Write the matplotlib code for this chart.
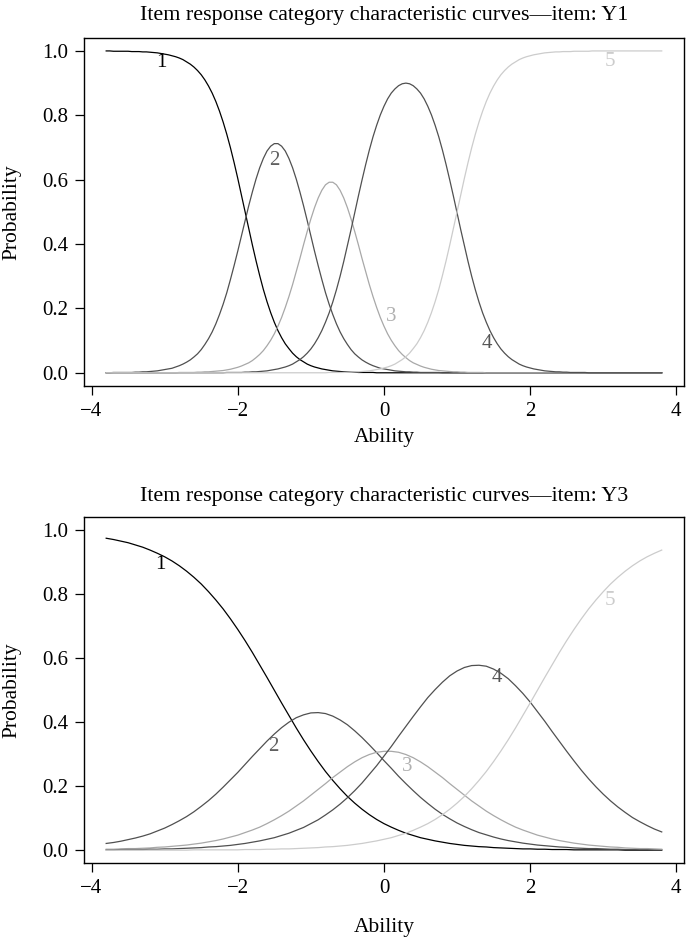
import matplotlib
matplotlib.use('Agg')
import matplotlib.pyplot as plt
import numpy as np

plt.rcParams['font.family'] = ['Liberation Serif', 'DejaVu Serif']

# item Y1: abilities -3.8 .. 3.8 every 0.05 (153 points)
theta_y1 = np.linspace(-3.8, 3.8, 153)
y1_cat1 = [1.000, 1.000, 0.999, 0.999, 0.999, 0.999, 0.999, 0.998, 0.998, 0.998,
           0.997, 0.997, 0.996, 0.995, 0.994, 0.992, 0.990, 0.988, 0.985, 0.982,
           0.978, 0.973, 0.966, 0.959, 0.950, 0.939, 0.926, 0.910, 0.891, 0.869,
           0.843, 0.813, 0.779, 0.741, 0.699, 0.653, 0.604, 0.552, 0.500, 0.448,
           0.397, 0.348, 0.302, 0.259, 0.221, 0.187, 0.157, 0.131, 0.109, 0.090,
           0.075, 0.061, 0.050, 0.041, 0.034, 0.027, 0.022, 0.018, 0.015, 0.012,
           0.010, 0.008, 0.006, 0.005, 0.004, 0.003, 0.003, 0.002, 0.002, 0.001,
           0.001, 0.001, 0.001, 0.001, 0, 0, 0, 0, 0, 0,
           0, 0, 0, 0, 0, 0, 0, 0, 0, 0, 0, 0, 0, 0, 0, 0, 0, 0, 0, 0,
           0, 0, 0, 0, 0, 0, 0, 0, 0, 0, 0, 0, 0, 0, 0, 0, 0, 0, 0, 0,
           0, 0, 0, 0, 0, 0, 0, 0, 0, 0, 0, 0, 0, 0, 0, 0, 0, 0, 0, 0,
           0, 0, 0, 0, 0, 0, 0, 0, 0, 0, 0, 0, 0]
y1_cat2 = [0, 0, 0.001, 0.001, 0.001, 0.001, 0.001, 0.001, 0.002, 0.002,
           0.003, 0.003, 0.004, 0.005, 0.006, 0.008, 0.010, 0.012, 0.014, 0.018,
           0.022, 0.027, 0.033, 0.040, 0.049, 0.059, 0.072, 0.088, 0.106, 0.127,
           0.152, 0.181, 0.213, 0.249, 0.290, 0.333, 0.378, 0.425, 0.473, 0.519,
           0.562, 0.602, 0.637, 0.666, 0.689, 0.704, 0.712, 0.712, 0.704, 0.689,
           0.666, 0.637, 0.602, 0.562, 0.519, 0.473, 0.425, 0.378, 0.333, 0.290,
           0.249, 0.213, 0.181, 0.152, 0.127, 0.106, 0.088, 0.072, 0.059, 0.049,
           0.040, 0.033, 0.027, 0.022, 0.018, 0.014, 0.012, 0.010, 0.008, 0.006,
           0.005, 0.004, 0.003, 0.003, 0.002, 0.002, 0.001, 0.001, 0.001, 0.001,
           0.001, 0.001, 0, 0, 0, 0, 0, 0, 0, 0,
           0, 0, 0, 0, 0, 0, 0, 0, 0, 0, 0, 0, 0, 0, 0, 0, 0, 0, 0, 0,
           0, 0, 0, 0, 0, 0, 0, 0, 0, 0, 0, 0, 0, 0, 0, 0, 0, 0, 0, 0,
           0, 0, 0, 0, 0, 0, 0, 0, 0, 0, 0, 0, 0]
y1_cat3 = [0, 0, 0, 0, 0, 0, 0, 0, 0, 0, 0, 0, 0, 0, 0, 0, 0, 0, 0, 0,
           0.001, 0.001, 0.001, 0.001, 0.001, 0.002, 0.002, 0.003, 0.003, 0.004,
           0.005, 0.006, 0.007, 0.009, 0.011, 0.014, 0.017, 0.021, 0.026, 0.031,
           0.038, 0.047, 0.057, 0.069, 0.084, 0.101, 0.121, 0.145, 0.172, 0.203,
           0.237, 0.274, 0.314, 0.355, 0.398, 0.439, 0.478, 0.513, 0.543, 0.567,
           0.584, 0.592, 0.592, 0.584, 0.567, 0.543, 0.513, 0.478, 0.439, 0.398,
           0.355, 0.314, 0.274, 0.237, 0.203, 0.172, 0.145, 0.121, 0.101, 0.084,
           0.069, 0.057, 0.047, 0.038, 0.031, 0.026, 0.021, 0.017, 0.014, 0.011,
           0.009, 0.007, 0.006, 0.005, 0.004, 0.003, 0.003, 0.002, 0.002, 0.001,
           0.001, 0.001, 0.001, 0.001, 0, 0, 0, 0, 0, 0,
           0, 0, 0, 0, 0, 0, 0, 0, 0, 0,
           0, 0, 0, 0, 0, 0, 0, 0, 0, 0, 0, 0, 0, 0, 0, 0, 0, 0, 0, 0,
           0, 0, 0, 0, 0, 0, 0, 0, 0, 0, 0, 0, 0]
y1_cat4 = [0, 0, 0, 0, 0, 0, 0, 0, 0, 0, 0, 0, 0, 0, 0, 0, 0, 0, 0, 0,
           0, 0, 0, 0, 0, 0, 0, 0, 0, 0, 0, 0, 0, 0.001, 0.001, 0.001, 0.001, 0.001, 0.002, 0.002,
           0.003, 0.003, 0.004, 0.005, 0.006, 0.008, 0.010, 0.012, 0.015, 0.018,
           0.022, 0.027, 0.034, 0.041, 0.050, 0.061, 0.074, 0.090, 0.109, 0.131,
           0.157, 0.186, 0.220, 0.258, 0.300, 0.346, 0.395, 0.445, 0.497, 0.549,
           0.599, 0.647, 0.692, 0.733, 0.769, 0.801, 0.828, 0.851, 0.869, 0.882,
           0.892, 0.898, 0.900, 0.898, 0.892, 0.882, 0.869, 0.851, 0.828, 0.801,
           0.769, 0.733, 0.692, 0.647, 0.599, 0.549, 0.497, 0.445, 0.395, 0.346,
           0.300, 0.258, 0.220, 0.186, 0.157, 0.131, 0.109, 0.090, 0.074, 0.061,
           0.050, 0.041, 0.034, 0.027, 0.022, 0.018, 0.015, 0.012, 0.010, 0.008,
           0.006, 0.005, 0.004, 0.003, 0.003, 0.002, 0.002, 0.001, 0.001, 0.001,
           0.001, 0.001, 0, 0, 0, 0, 0, 0, 0, 0,
           0, 0, 0, 0, 0, 0, 0, 0, 0, 0, 0, 0, 0]
y1_cat5 = [0, 0, 0, 0, 0, 0, 0, 0, 0, 0, 0, 0, 0, 0, 0, 0, 0, 0, 0, 0,
           0, 0, 0, 0, 0, 0, 0, 0, 0, 0, 0, 0, 0, 0, 0, 0, 0, 0, 0, 0,
           0, 0, 0, 0, 0, 0, 0, 0, 0, 0, 0, 0, 0, 0, 0, 0, 0, 0, 0, 0,
           0, 0.001, 0.001, 0.001, 0.001, 0.001, 0.002, 0.002, 0.003, 0.003,
           0.004, 0.005, 0.006, 0.008, 0.010, 0.012, 0.015, 0.018, 0.022, 0.027,
           0.034, 0.041, 0.050, 0.061, 0.075, 0.090, 0.109, 0.131, 0.157, 0.187,
           0.221, 0.259, 0.302, 0.348, 0.397, 0.448, 0.500, 0.552, 0.604, 0.653,
           0.699, 0.741, 0.779, 0.813, 0.843, 0.869, 0.891, 0.910, 0.926, 0.939,
           0.950, 0.959, 0.966, 0.973, 0.978, 0.982, 0.985, 0.988, 0.990, 0.992,
           0.994, 0.995, 0.996, 0.997, 0.997, 0.998, 0.998, 0.998, 0.999, 0.999,
           0.999, 0.999, 0.999, 1.000, 1.000, 1.000, 1.000, 1.000, 1.000, 1.000,
           1.000, 1.000, 1.000, 1.000, 1.000, 1.000, 1.000, 1.000, 1.000, 1.000,
           1.000, 1.000, 1.000]

# item Y3: abilities -3.8 .. 3.8 every 0.1 (77 points)
theta_y3 = np.linspace(-3.8, 3.8, 77)
y3_cat1 = [0.975, 0.971, 0.966, 0.961, 0.954, 0.947, 0.938, 0.928, 0.917, 0.904,
           0.889, 0.872, 0.853, 0.832, 0.808, 0.782, 0.754, 0.723, 0.690, 0.655,
           0.618, 0.579, 0.540, 0.500, 0.460, 0.421, 0.382, 0.345, 0.310, 0.277,
           0.246, 0.218, 0.192, 0.168, 0.147, 0.128, 0.111, 0.096, 0.083, 0.072,
           0.062, 0.053, 0.046, 0.039, 0.034, 0.029, 0.025, 0.021, 0.018, 0.015,
           0.013, 0.011, 0.010, 0.008, 0.007, 0.006, 0.005, 0.004, 0.004, 0.003,
           0.003, 0.002, 0.002, 0.002, 0.001, 0.001, 0.001, 0.001, 0.001, 0.001,
           0.001, 0.000, 0.000, 0.000, 0.000, 0.000, 0.000]
y3_cat2 = [0.021, 0.024, 0.028, 0.033, 0.038, 0.044, 0.051, 0.060, 0.069, 0.080,
           0.092, 0.105, 0.120, 0.137, 0.155, 0.175, 0.197, 0.220, 0.243, 0.268,
           0.293, 0.317, 0.341, 0.363, 0.383, 0.400, 0.414, 0.423, 0.429, 0.430,
           0.427, 0.419, 0.407, 0.392, 0.373, 0.352, 0.329, 0.305, 0.280, 0.256,
           0.231, 0.208, 0.186, 0.165, 0.146, 0.128, 0.112, 0.098, 0.085, 0.074,
           0.064, 0.055, 0.048, 0.041, 0.035, 0.030, 0.026, 0.022, 0.019, 0.016,
           0.014, 0.012, 0.010, 0.009, 0.007, 0.006, 0.005, 0.005, 0.004, 0.003,
           0.003, 0.002, 0.002, 0.002, 0.002, 0.001, 0.001]
y3_cat3 = [0.003, 0.003, 0.004, 0.005, 0.005, 0.006, 0.007, 0.009, 0.010, 0.012,
           0.014, 0.016, 0.019, 0.022, 0.026, 0.030, 0.035, 0.041, 0.047, 0.055,
           0.063, 0.072, 0.083, 0.095, 0.108, 0.122, 0.138, 0.154, 0.172, 0.190,
           0.208, 0.227, 0.244, 0.261, 0.276, 0.289, 0.299, 0.306, 0.309, 0.309,
           0.306, 0.299, 0.289, 0.276, 0.261, 0.244, 0.227, 0.208, 0.190, 0.172,
           0.154, 0.138, 0.122, 0.108, 0.095, 0.083, 0.072, 0.063, 0.055, 0.047,
           0.041, 0.035, 0.030, 0.026, 0.022, 0.019, 0.016, 0.014, 0.012, 0.010,
           0.009, 0.007, 0.006, 0.005, 0.005, 0.004, 0.003]
y3_cat4 = [0.001, 0.001, 0.002, 0.002, 0.002, 0.002, 0.003, 0.003, 0.004, 0.004,
           0.005, 0.006, 0.007, 0.008, 0.010, 0.011, 0.013, 0.015, 0.018, 0.021,
           0.025, 0.029, 0.034, 0.039, 0.046, 0.053, 0.062, 0.071, 0.083, 0.095,
           0.110, 0.126, 0.144, 0.164, 0.186, 0.210, 0.237, 0.264, 0.294, 0.324,
           0.356, 0.387, 0.418, 0.448, 0.477, 0.502, 0.525, 0.545, 0.560, 0.571,
           0.577, 0.578, 0.575, 0.566, 0.553, 0.536, 0.514, 0.490, 0.463, 0.433,
           0.403, 0.371, 0.340, 0.309, 0.279, 0.250, 0.223, 0.198, 0.175, 0.154,
           0.135, 0.118, 0.102, 0.089, 0.077, 0.066, 0.057]
y3_cat5 = [0, 0, 0, 0, 0, 0, 0, 0, 0, 0,
           0.000, 0.000, 0.001, 0.001, 0.001, 0.001, 0.001, 0.001, 0.001, 0.002,
           0.002, 0.002, 0.003, 0.003, 0.004, 0.004, 0.005, 0.006, 0.007, 0.008,
           0.010, 0.011, 0.013, 0.015, 0.018, 0.021, 0.025, 0.029, 0.034, 0.039,
           0.046, 0.053, 0.062, 0.072, 0.083, 0.096, 0.111, 0.128, 0.147, 0.168,
           0.192, 0.218, 0.246, 0.277, 0.310, 0.345, 0.382, 0.421, 0.460, 0.500,
           0.540, 0.579, 0.618, 0.655, 0.690, 0.723, 0.754, 0.782, 0.808, 0.832,
           0.853, 0.872, 0.889, 0.904, 0.917, 0.928, 0.938]

cat_names = ['1', '2', '3', '4', '5']
# where the category numbers sit on each panel
y1_label_x = [-3.04, -1.50, 0.10, 1.41, 3.09]
y1_label_y = [0.964, 0.661, 0.174, 0.091, 0.967]
y3_label_x = [-3.06, -1.51, 0.32, 1.55, 3.09]
y3_label_y = [0.892, 0.324, 0.263, 0.539, 0.779]

colors = ['#000000', '#505050', '#a8a8a8', '#505050', '#cccccc']
text_colors = ['#000000', '#606060', '#b0b0b0', '#555555', '#cccccc']


def draw_panel(ax, theta, cats, lab_x, lab_y):
    for c, yv in enumerate(cats):
        ax.plot(theta, yv, color=colors[c], lw=0.9)
        ax.text(lab_x[c], lab_y[c], cat_names[c], color=text_colors[c],
                fontsize=15, ha='center', va='center')
    ax.set_xlim(-4.104, 4.104)
    ax.set_ylim(-0.04, 1.04)
    ax.set_xticks([-4, -2, 0, 2, 4])
    ax.set_yticks([0.0, 0.2, 0.4, 0.6, 0.8, 1.0])
    ax.set_yticklabels(['0.0', '0.2', '0.4', '0.6', '0.8', '1.0'])
    ax.tick_params(direction='out', length=6.5, width=0.9, labelsize=15, pad=5)
    for s in ax.spines.values():
        s.set_linewidth(1.0)


fig = plt.figure(figsize=(6.86, 9.42), dpi=100)
ax1 = fig.add_axes([0.1224, 0.5906, 0.8746, 0.369])
ax2 = fig.add_axes([0.1224, 0.0839, 0.8746, 0.3668])

draw_panel(ax1, theta_y1, [y1_cat1, y1_cat2, y1_cat3, y1_cat4, y1_cat5],
           y1_label_x, y1_label_y)
draw_panel(ax2, theta_y3, [y3_cat1, y3_cat2, y3_cat3, y3_cat4, y3_cat5],
           y3_label_x, y3_label_y)

fig.text(0.5597, 0.984, 'Item response category characteristic curves\u2014item: Y1',
         ha='center', va='center', fontsize=15.8)
fig.text(0.5597, 0.4724, 'Item response category characteristic curves\u2014item: Y3',
         ha='center', va='center', fontsize=15.8)
fig.text(0.0175, 0.775, 'Probability', rotation=90, ha='center', va='center', fontsize=15.5)
fig.text(0.0175, 0.2675, 'Probability', rotation=90, ha='center', va='center', fontsize=15.5)
fig.text(0.5597, 0.536, 'Ability', ha='center', va='center', fontsize=15.5)
fig.text(0.5597, 0.0159, 'Ability', ha='center', va='center', fontsize=15.5)

plt.savefig('out.png', dpi=100)
